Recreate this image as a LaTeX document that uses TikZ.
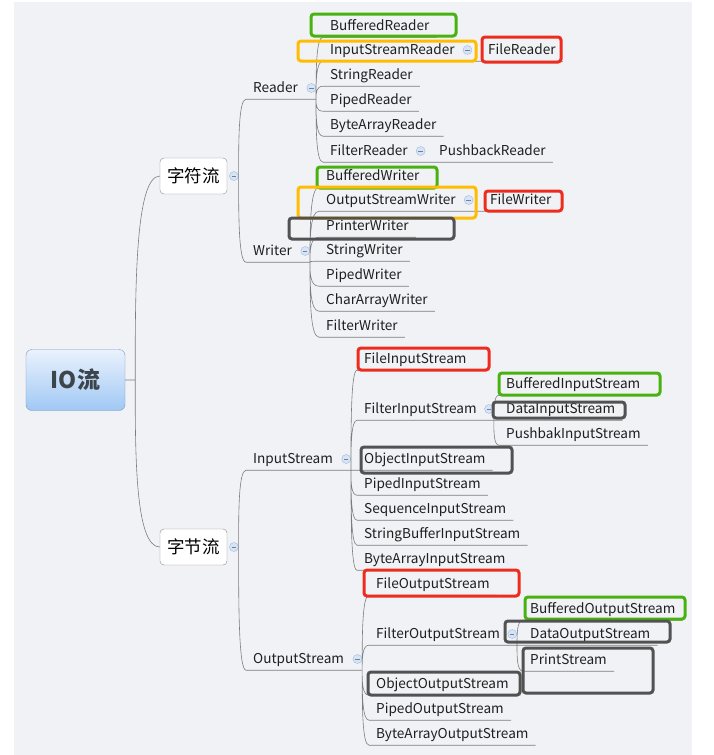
\documentclass[tikz,border=0pt]{standalone}
\usepackage{fontspec}
\setmainfont{Noto Sans CJK SC}
\usetikzlibrary{positioning,calc}

\definecolor{bgcol}{RGB}{240,242,246}
\definecolor{linecol}{RGB}{125,125,125}
\definecolor{hlgreen}{RGB}{72,178,16}
\definecolor{hlorange}{RGB}{255,188,0}
\definecolor{hlred}{RGB}{238,44,30}
\definecolor{hldark}{RGB}{82,82,82}
\definecolor{foldfill}{RGB}{214,228,246}
\definecolor{folddraw}{RGB}{160,185,220}
\definecolor{rootdraw}{RGB}{125,152,186}
\definecolor{roottop}{RGB}{234,242,253}
\definecolor{rootbot}{RGB}{160,200,244}
\definecolor{roottext}{RGB}{62,68,76}

\newcommand{\leaf}{\node[leaf]}
\newcommand{\fold}{\node[fold]}
\newcommand{\linkto}[2]{(#1) .. controls ($(#1)!0.45!(#1 |- #2)$) and (#1 |- #2) .. (#2)}

\tikzset{
  leaf/.style={font=\fontsize{13.6}{15}\selectfont, text=black!88, inner xsep=7pt, inner ysep=0pt,
    text height=10pt, text depth=1pt, minimum height=22pt, anchor=west},
  fold/.style={circle, draw=folddraw, fill=foldfill, minimum size=9pt, inner sep=0pt,
    path picture={\draw[folddraw!70!black, line width=0.6pt]
      ([xshift=-2.2pt]path picture bounding box.center) -- ([xshift=2.2pt]path picture bounding box.center);}},
  branch/.style={draw=linecol, line width=0.6pt},
  mid/.style={draw=black!45, fill=white, rounded corners=4pt, font=\fontsize{17.5}{20}\selectfont,
    minimum width=67pt, minimum height=36pt, inner sep=0pt},
  root/.style={draw=rootdraw, rounded corners=6pt, top color=roottop, bottom color=rootbot,
    minimum width=99pt, minimum height=61pt, font=\bfseries\fontsize{23}{25}\selectfont, text=roottext},
  hl/.style={rounded corners=3pt, line width=3pt},
}

\begin{document}
\begin{tikzpicture}[x=1pt, y=-1pt]
            \useasboundingbox (0,0) rectangle (713,755);
            \fill[bgcol] (14,2) rectangle (692,755);

            \node[root] (io) at (75.5,380) {IO流};
            \coordinate (iob) at ([xshift=10pt]io.east);

            \node[mid] (zf) at (193.5,176) {字符流};
            \fold[right=2pt of zf] (zfi) {};
            \node[mid] (zj) at (193.5,547) {字节流};
            \fold[right=2pt of zj] (zji) {};

            % Reader
            \leaf (rd) at (246,88) {Reader};
            \fold[right=1.5pt of rd] (rdi) {};
            \coordinate (rdb) at (rdi.east |- rd.south);
            \leaf (brd) at (323,26) {BufferedReader};
            \leaf (isr) at (323,50) {InputStreamReader};
            \fold[right=1pt of isr] (isri) {};
            \coordinate (isrb) at (isri.east |- isr.south);
            \leaf (flr) at (481,50) {FileReader};
            \leaf (str) at (323,75) {StringReader};
            \leaf (pdr) at (323,100) {PipedReader};
            \leaf (bar) at (323,125) {ByteArrayReader};
            \leaf (ftr) at (323,151) {FilterReader};
            \fold[right=1pt of ftr] (ftri) {};
            \coordinate (ftrb) at (ftri.east |- ftr.south);
            \leaf (pbr) at (432,151) {PushbackReader};

            % Writer
            \leaf (wr) at (246,251) {Writer};
            \fold[right=1.5pt of wr] (wri) {};
            \coordinate (wrb) at (wri.east |- wr.south);
            \leaf (bwr) at (319,176) {BufferedWriter};
            \leaf (osw) at (319,200) {OutputStreamWriter};
            \fold[right=1pt of osw] (oswi) {};
            \coordinate (oswb) at (oswi.east |- osw.south);
            \leaf (flw) at (483,200) {FileWriter};
            \leaf (prw) at (319,226) {PrinterWriter};
            \leaf (stw) at (319,250) {StringWriter};
            \leaf (pdw) at (319,275) {PipedWriter};
            \leaf (caw) at (319,300) {CharArrayWriter};
            \leaf (ftw) at (319,326) {FilterWriter};

            % InputStream
            \leaf (is) at (246,459) {InputStream};
            \fold[right=1.5pt of is] (isi) {};
            \coordinate (isb) at (isi.east |- is.south);
            \leaf (fis) at (357,359) {FileInputStream};
            \leaf (ftis) at (357,409) {FilterInputStream};
            \fold[right=0.5pt of ftis] (ftisi) {};
            \coordinate (ftisb) at (ftisi.east |- ftis.south);
            \leaf (bis) at (499,384) {BufferedInputStream};
            \leaf (dis) at (499,409) {DataInputStream};
            \leaf (pbis) at (499,434) {PushbakInputStream};
            \leaf (obis) at (357,459) {ObjectInputStream};
            \leaf (pdis) at (357,484) {PipedInputStream};
            \leaf (sqis) at (357,509) {SequenceInputStream};
            \leaf (sbis) at (357,534) {StringBufferInputStream};
            \leaf (bais) at (357,559) {ByteArrayInputStream};

            % OutputStream
            \leaf (os) at (246,659) {OutputStream};
            \fold[right=1.5pt of os] (osi) {};
            \coordinate (osb) at (osi.east |- os.south);
            \leaf (fos) at (369,584) {FileOutputStream};
            \leaf (ftos) at (369,634) {FilterOutputStream};
            \fold[right=0.5pt of ftos] (ftosi) {};
            \coordinate (ftosb) at (ftosi.east |- ftos.south);
            \leaf (bos) at (523,609) {BufferedOutputStream};
            \leaf (dos) at (523,634) {DataOutputStream};
            \leaf (pst) at (523,660) {PrintStream};
            \leaf (obos) at (369,684) {ObjectOutputStream};
            \leaf (pdos) at (369,709) {PipedOutputStream};
            \leaf (baos) at (369,734) {ByteArrayOutputStream};

            \draw[branch]
                (io.east) -- (iob)
                \linkto{iob}{zf.west}
                \linkto{iob}{zj.west}
                \linkto{zfi.east}{rd.south west} -- (rdb)
                \linkto{zfi.east}{wr.south west} -- (wrb)
                \linkto{zji.east}{is.south west} -- (isb)
                \linkto{zji.east}{os.south west} -- (osb)
                ;

            \draw[branch]
                \linkto{rdb}{brd.south west} -- (brd.south east)
                \linkto{rdb}{isr.south west} -- (isrb)
                (isrb) -- (flr.south west) -- (flr.south east)
                \linkto{rdb}{str.south west} -- (str.south east)
                \linkto{rdb}{pdr.south west} -- (pdr.south east)
                \linkto{rdb}{bar.south west} -- (bar.south east)
                \linkto{rdb}{ftr.south west} -- (ftrb)
                (ftrb) -- (pbr.south west) -- (pbr.south east)
                ;

            \draw[branch]
                \linkto{wrb}{bwr.south west} -- (bwr.south east)
                \linkto{wrb}{osw.south west} -- (oswb)
                (oswb) -- (flw.south west) -- (flw.south east)
                \linkto{wrb}{prw.south west} -- (prw.south east)
                \linkto{wrb}{stw.south west} -- (stw.south east)
                \linkto{wrb}{pdw.south west} -- (pdw.south east)
                \linkto{wrb}{caw.south west} -- (caw.south east)
                \linkto{wrb}{ftw.south west} -- (ftw.south east)
                ;

            \draw[branch]
                \linkto{isb}{fis.south west} -- (fis.south east)
                \linkto{isb}{ftis.south west} -- (ftisb)
                \linkto{ftisb}{bis.south west} -- (bis.south east)
                \linkto{ftisb}{dis.south west} -- (dis.south east)
                \linkto{ftisb}{pbis.south west} -- (pbis.south east)
                \linkto{isb}{obis.south west} -- (obis.south east)
                \linkto{isb}{pdis.south west} -- (pdis.south east)
                \linkto{isb}{sqis.south west} -- (sqis.south east)
                \linkto{isb}{sbis.south west} -- (sbis.south east)
                \linkto{isb}{bais.south west} -- (bais.south east)
                ;

            \draw[branch]
                \linkto{osb}{fos.south west} -- (fos.south east)
                \linkto{osb}{ftos.south west} -- (ftosb)
                \linkto{ftosb}{bos.south west} -- (bos.south east)
                \linkto{ftosb}{dos.south west} -- (dos.south east)
                \linkto{ftosb}{pst.south west} -- (pst.south east)
                \linkto{osb}{obos.south west} -- (obos.south east)
                \linkto{osb}{pdos.south west} -- (pdos.south east)
                \linkto{osb}{baos.south west} -- (baos.south east)
                ;

            % marks
            \draw[hl, hlgreen]  (311,14) rectangle (456,36);
            \draw[hl, hlorange] (298,41) rectangle (476,61);
            \draw[hl, hlred]    (482,37) rectangle (561,62);
            \draw[hl, hlgreen]  (317,167) rectangle (437,188);
            \draw[hl, hlorange] (298,187) rectangle (476,218);
            \draw[hl, hlred]    (485,191) rectangle (562,211);
            \draw[hl, hldark]   (289,218) rectangle (454,239);
            \draw[hl, hlred]    (358,348) rectangle (489,370);
            \draw[hl, hlgreen]  (499,373) rectangle (660,395);
            \draw[hl, hldark]   (493,402) rectangle (625,418);
            \draw[hl, hldark]   (361,447) rectangle (512,473);
            \draw[hl, hlred]    (364,570) rectangle (519,596);
            \draw[hl, hlgreen]  (525,597) rectangle (685,619);
            \draw[hl, hldark]   (505,621) rectangle (670,642);
            \draw[hl, hldark]   (523,648) rectangle (653,693);
            \draw[hl, hldark]   (368,672) rectangle (520,695);

        \end{tikzpicture}
\end{document}
